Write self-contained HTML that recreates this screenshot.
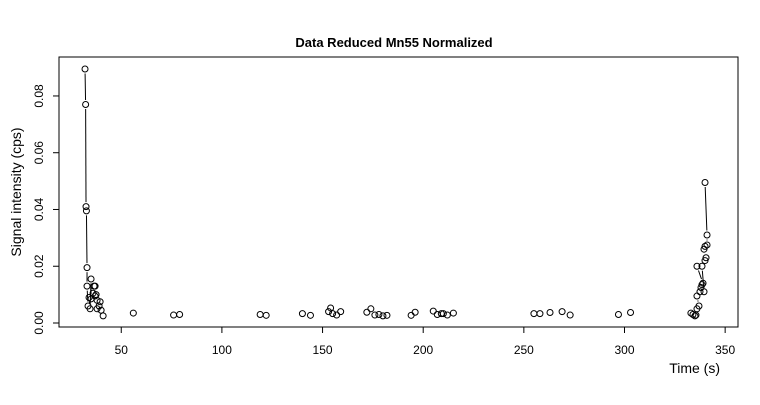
<!DOCTYPE html>
<html><head><meta charset="utf-8"><style>
body{margin:0;background:#fff}
svg text{font-family:"Liberation Sans",Arial,sans-serif;fill:#000}
</style></head><body>
<svg width="760" height="400">
<rect x="0" y="0" width="760" height="400" fill="#fff"/>
<text x="394" y="47" font-size="13" font-weight="bold" text-anchor="middle">Data Reduced Mn55 Normalized</text>
<rect x="59" y="57" width="679" height="270" fill="none" stroke="#000" stroke-width="1"/>
<g id="xaxis"></g>
<g id="yaxis"></g>
<text x="720" y="373" font-size="14" text-anchor="end">Time (s)</text>
<text transform="translate(21,192) rotate(-90)" font-size="14" text-anchor="middle">Signal intensity (cps)</text>
<g id="series"></g>
</svg>
<script>
const times=[32,32.3,32.5,32.7,33,33,33.5,34,34.5,35,35,36,36.5,37,37,37.5,38,38,39,39.5,40,41,
56,76,79,119,122,140,144,153,154,155,157,159,172,174,176,178,180,182,194,196,205,207,209,210,212,215,255,258,263,269,273,297,303,
333,334,335,335.5,336,337,336,337.5,338,338.5,339,336,339.5,338.5,340,340.5,339.5,340,341,341,340];
const values=[0.0895,0.077,0.041,0.0395,0.0195,0.013,0.006,0.009,0.005,0.0155,0.0085,0.0105,0.013,0.0095,0.013,0.01,0.008,0.005,0.006,0.0075,0.0045,0.0025,
0.0035,0.0028,0.003,0.003,0.0027,0.0033,0.0027,0.004,0.0053,0.0033,0.0028,0.004,0.0038,0.005,0.0028,0.003,0.0025,0.0027,0.0027,0.0038,0.0042,0.003,0.0033,0.0033,0.0028,0.0035,0.0033,0.0033,0.0037,0.004,0.0028,0.003,0.0037,
0.0035,0.003,0.0025,0.0028,0.005,0.006,0.0095,0.011,0.0125,0.0135,0.014,0.020,0.011,0.020,0.022,0.023,0.026,0.027,0.0275,0.031,0.0495];
const xTicks=[50,100,150,200,250,300,350];
const yTicks=[0,0.02,0.04,0.06,0.08];
const yTickLabels=["0.00","0.02","0.04","0.06","0.08"];
const NS="http://www.w3.org/2000/svg";
const xs=t=>20.6+t*2.013;
const ys=v=>323-v*2838;
const xa=document.getElementById('xaxis'),ya=document.getElementById('yaxis'),sg=document.getElementById('series');
function mk(tag,attrs,parent){const e=document.createElementNS(NS,tag);for(const k in attrs)e.setAttribute(k,attrs[k]);parent.appendChild(e);return e;}
xTicks.forEach(t=>{
 const l=mk('line',{x1:xs(t),x2:xs(t),y1:327,y2:333,stroke:'#000'},xa);
 
 
 const tx=mk('text',{x:xs(t),y:354,'font-size':12,'text-anchor':'middle'},xa);
 tx.textContent=t;
 
 
});
yTicks.forEach((v,i)=>{
 const l=mk('line',{x1:53,x2:59,y1:ys(v),y2:ys(v),stroke:'#000'},ya);
 
 
 const tx=mk('text',{'font-size':12,'text-anchor':'middle',transform:`translate(43,${ys(v)}) rotate(-90)`},ya);
 tx.textContent=yTickLabels[i];
 
 
});
// type="b": segments with gaps around points; lines only within contiguous runs
const gap=4.5;
for(let i=0;i<times.length-1;i++){
 if(Math.abs(times[i+1]-times[i])>3)continue;
 const x1=xs(times[i]),y1=ys(values[i]),x2=xs(times[i+1]),y2=ys(values[i+1]);
 const d=Math.hypot(x2-x1,y2-y1);
 if(d<=2*gap)continue;
 const ux=(x2-x1)/d,uy=(y2-y1)/d;
 const l=mk('line',{x1:x1+ux*gap,y1:y1+uy*gap,x2:x2-ux*gap,y2:y2-uy*gap,stroke:'#000','stroke-width':1},sg);
 
 
}
times.forEach((t,i)=>{
 const c=mk('circle',{cx:xs(t),cy:ys(values[i]),r:3,fill:'none',stroke:'#000','stroke-width':1},sg);
 
 
});
</script>
</body></html>
